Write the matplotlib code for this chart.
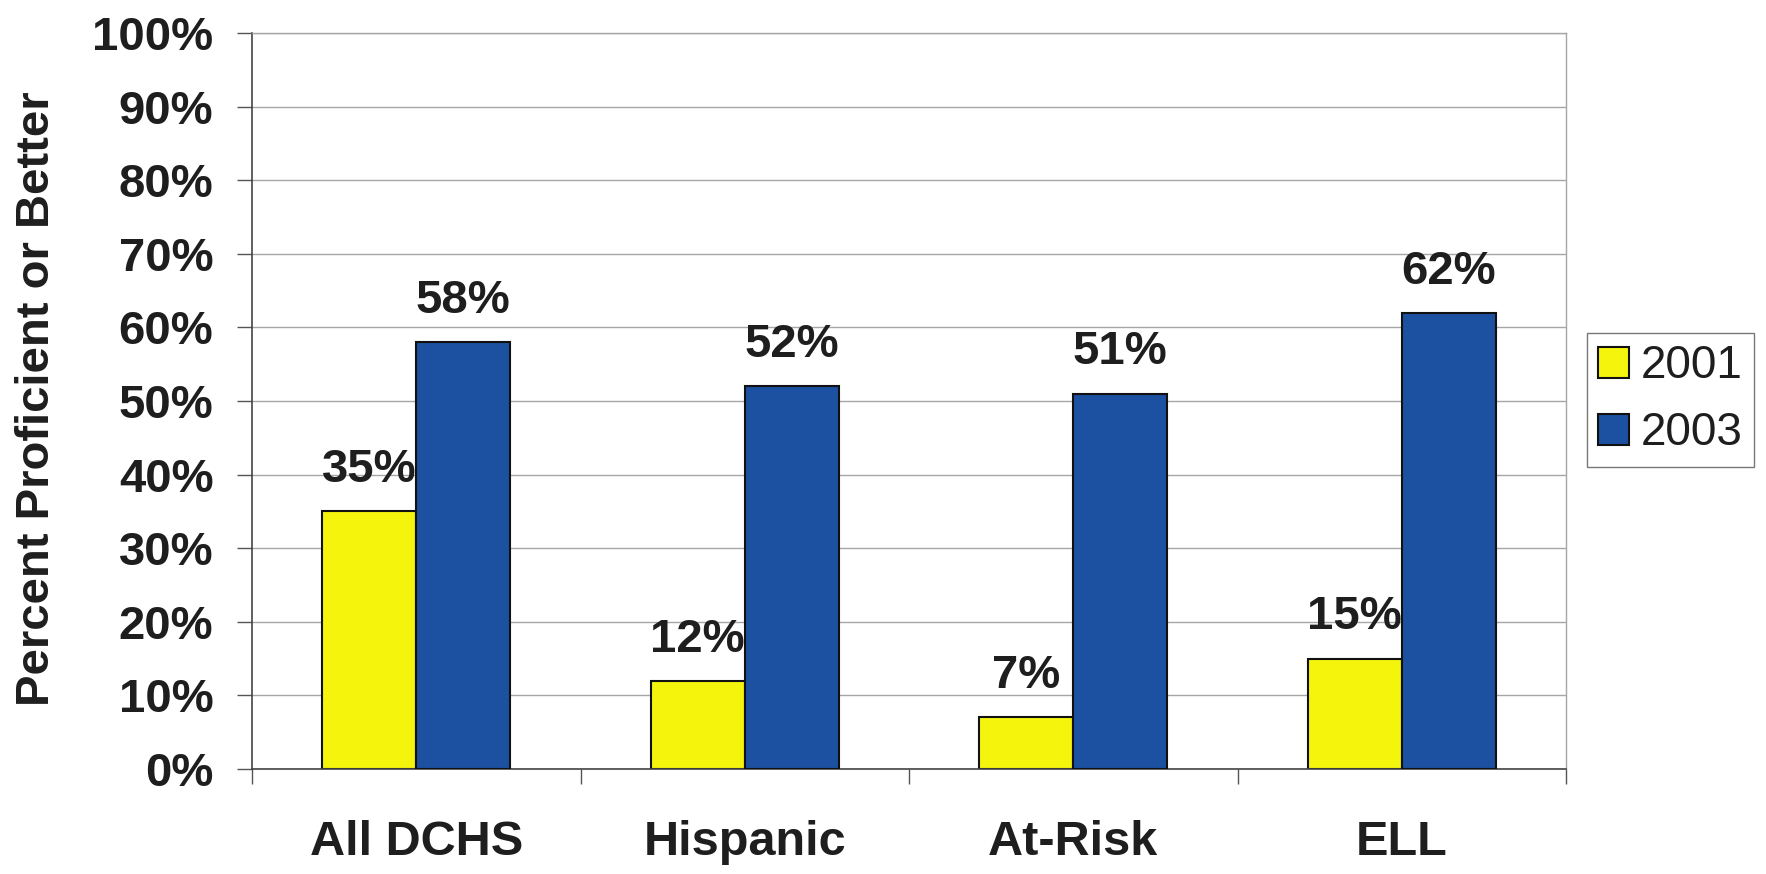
import matplotlib.pyplot as plt
import numpy as np

plt.rcParams['font.family'] = ['Liberation Sans', 'DejaVu Sans']

groups = ['All DCHS', 'Hispanic', 'At-Risk', 'ELL']
pct_2001 = [35, 12, 7, 15]
pct_2003 = [58, 52, 51, 62]
y_ticks = [0, 10, 20, 30, 40, 50, 60, 70, 80, 90, 100]

YELLOW = '#f4f40c'
BLUE = '#1c50a0'
TEXT = '#1e1e1e'
GRID = '#a6a6a6'

fig = plt.figure(figsize=(17.66, 8.74), dpi=100)
ax = fig.add_axes([252 / 1766, 1 - 769 / 874, 1314 / 1766, 736 / 874])

x = np.arange(len(groups))
w = 0.286

bars1 = ax.bar(x - w / 2, pct_2001, w, color=YELLOW, edgecolor='#111111',
               linewidth=1.5, label='2001', zorder=2)
bars2 = ax.bar(x + w / 2, pct_2003, w, color=BLUE, edgecolor='#111111',
               linewidth=1.5, label='2003', zorder=4)

# value labels sit above each bar; the 2001 ones tuck under the 2003 bars
for bars, vals in ((bars1, pct_2001), (bars2, pct_2003)):
    for b, v in zip(bars, vals):
        ax.annotate(f'{v}%', (b.get_x() + b.get_width() / 2, v),
                    xytext=(0, 21), textcoords='offset points',
                    ha='center', va='baseline', fontsize=34,
                    fontweight='bold', color=TEXT, zorder=3)

ax.set_xlim(-0.5, len(groups) - 0.5)
ax.set_ylim(0, 100)

ax.set_yticks(y_ticks)
ax.set_yticklabels([f'{t}%' for t in y_ticks], fontsize=34,
                   fontweight='bold', color=TEXT)
ax.tick_params(axis='y', length=10.8, width=1, color='#555555', pad=17)

ax.set_xticks(x)
ax.set_xticklabels(groups, fontsize=35, fontweight='bold', color=TEXT)
ax.set_xticks(np.arange(len(groups) + 1) - 0.5, minor=True)
ax.tick_params(axis='x', which='major', length=0, pad=37)
ax.tick_params(axis='x', which='minor', length=10.8, width=1,
               color='#555555')

ax.yaxis.grid(True, color=GRID, linewidth=1.0)
ax.set_axisbelow(True)

for side in ('left', 'bottom'):
    ax.spines[side].set_color('#444444')
    ax.spines[side].set_linewidth(1.2)
for side in ('top', 'right'):
    ax.spines[side].set_color(GRID)
    ax.spines[side].set_linewidth(1.0)

fig.text(37 / 1766, 1 - 399 / 874, 'Percent Proficient or Better',
         rotation=90, ha='center', va='center', fontsize=34,
         fontweight='bold', color=TEXT)

leg = ax.legend(loc='upper left', bbox_to_anchor=(1587 / 1766, 1 - 333 / 874),
                bbox_transform=fig.transFigure, borderaxespad=0,
                fontsize=33, frameon=True, fancybox=False, framealpha=1,
                edgecolor='#777777', handlelength=0.67, handleheight=0.67,
                handletextpad=0.26, borderpad=0.25, labelspacing=0.5)
leg.get_frame().set_linewidth(1.0)
for t in leg.get_texts():
    t.set_color(TEXT)

fig.savefig('out.png', dpi=100, facecolor='white')
